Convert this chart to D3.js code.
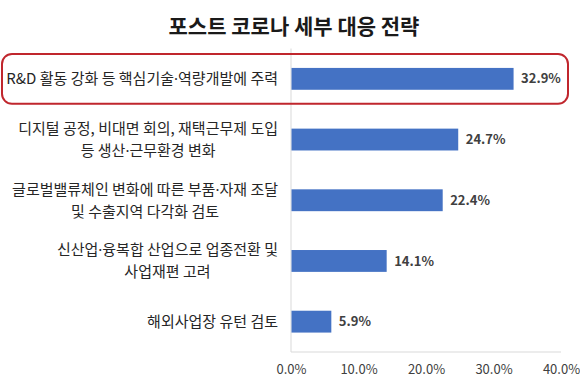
<!DOCTYPE html>
<html>
<head>
<meta charset="utf-8">
<script src="https://cdn.jsdelivr.net/npm/d3@7"></script>
<style>
  html, body { margin: 0; padding: 0; background: #fff; }
  svg { display: block; }
</style>
</head>
<body>
<svg id="chart" width="580" height="380"></svg>
<script>
const title = "포스트 코로나 세부 대응 전략";
const categories = [
  "R&D 활동 강화 등 핵심기술·역량개발에 주력",
  "디지털 공정, 비대면 회의, 재택근무제 도입\n등 생산·근무환경 변화",
  "글로벌밸류체인 변화에 따른 부품·자재 조달\n및 수출지역 다각화 검토",
  "신산업·융복합 산업으로 업종전환 및\n사업재편 고려",
  "해외사업장 유턴 검토"
];
const values = [32.9, 24.7, 22.4, 14.1, 5.9];
const ticks = [0, 10, 20, 30, 40];
const highlighted = [0];

(function () {
const svg = d3.select("#chart");
const pl = 291, pr = 561, pt = 48.5, pb = 352;
const font = "'Noto Sans CJK KR', 'Malgun Gothic', sans-serif";

const x = d3.scaleLinear().domain([0, 40]).range([pl, pr]);
const y = d3.scaleBand().domain(categories).range([pt, pb])
  .paddingInner(0.64).paddingOuter(0.32);

// title
svg.append("text")
  .attr("x", 294).attr("y", 34)
  .attr("text-anchor", "middle")
  .attr("font-family", font)
  .attr("font-weight", "bold")
  .attr("font-size", 21)
  .attr("fill", "#1a1a1a")
  .text(title);

// bottom baseline
svg.append("line")
  .attr("x1", pl).attr("x2", pr)
  .attr("y1", pb).attr("y2", pb)
  .attr("stroke", "#d9d9d9").attr("stroke-width", 1);

// x axis ticks
const xAxis = d3.axisBottom(x).tickValues(ticks).tickSize(0)
  .tickFormat(d => d.toFixed(1) + "%");
const gx = svg.append("g").attr("transform", `translate(0,${pb})`).call(xAxis);
gx.select(".domain").remove();
gx.selectAll("text")
  .attr("dy", null).attr("y", 22)
  .attr("font-family", font).attr("font-size", 13)
  .attr("fill", "#404040");

// y axis line
svg.append("line")
  .attr("x1", pl).attr("x2", pl)
  .attr("y1", pt).attr("y2", pb)
  .attr("stroke", "#d9d9d9").attr("stroke-width", 1);

// bars
svg.selectAll("rect.bar").data(categories).enter().append("rect")
  .attr("class", "bar")
  .attr("x", x(0) + 0.5)
  .attr("y", d => y(d))
  .attr("width", (d, i) => x(values[i]) - x(0))
  .attr("height", y.bandwidth())
  .attr("fill", "#4472c4");

// value labels
svg.selectAll("text.val").data(categories).enter().append("text")
  .attr("class", "val")
  .attr("x", (d, i) => x(values[i]) + 8)
  .attr("y", d => y(d) + y.bandwidth() / 2)
  .attr("dy", "0.35em")
  .attr("font-family", font).attr("font-weight", "bold").attr("font-size", 13)
  .attr("fill", "#404040")
  .text((d, i) => values[i].toFixed(1) + "%");

// category labels (block right-aligned, lines centered)
const labelRight = pl - 13;
const lineH = 22;
categories.forEach(cat => {
  const lines = cat.split("\n");
  const g = svg.append("g");
  const cy = y(cat) + y.bandwidth() / 2;
  const texts = lines.map((ln, k) => {
    const t = g.append("text")
      .attr("y", cy + (k - (lines.length - 1) / 2) * lineH)
      .attr("dy", "0.35em")
      .attr("text-anchor", "middle")
      .attr("font-family", font).attr("font-size", 15)
      .attr("fill", "#262626");
    ln.split("·").forEach((part, j) => {
      if (j > 0) t.append("tspan").attr("font-family", "'Noto Sans', sans-serif").text("·");
      t.append("tspan").text(part);
    });
    return t;
  });
  const maxW = d3.max(texts, t => t.node().getComputedTextLength());
  texts.forEach(t => t.attr("x", labelRight - maxW / 2));
});

// highlight box
highlighted.forEach(i => {
  const c = categories[i];
  svg.append("rect")
    .attr("x", 2).attr("y", y(c) - 14)
    .attr("width", 566).attr("height", y.bandwidth() + 28)
    .attr("rx", 10).attr("ry", 10)
    .attr("fill", "none")
    .attr("stroke", "#c0262d").attr("stroke-width", 2);
});
})();
</script>
</body>
</html>
